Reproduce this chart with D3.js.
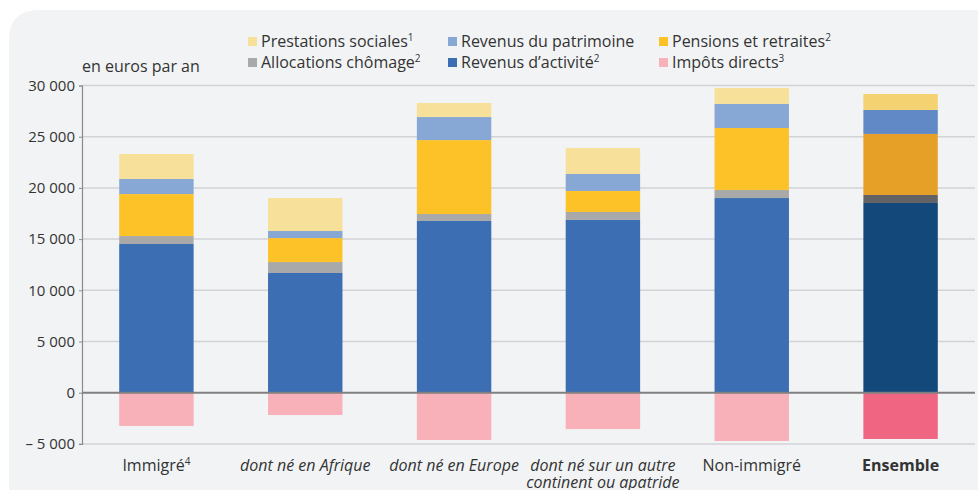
<!DOCTYPE html>
<html>
<head>
<meta charset="utf-8">
<script src="https://cdn.jsdelivr.net/npm/d3@7"></script>
<style>
  body { margin: 0; background: #fff; }
  svg { display: block; font-family: "Open Sans", sans-serif; }
</style>
</head>
<body>
<script>
// data (euros par an)
const categories = ["Immigré", "dont né en Afrique", "dont né en Europe", "dont né sur un autre continent ou apatride", "Non-immigré", "Ensemble"];
const revenusActivite = [14520, 11690, 16770, 16870, 19010, 18530];
const allocationsChomage = [780, 1070, 680, 780, 790, 780];
const pensionsRetraites = [4100, 2340, 7220, 2050, 6050, 5960];
const revenusPatrimoine = [1470, 690, 2250, 1660, 2350, 2340];
const prestationsSociales = [2440, 3220, 1370, 2540, 1560, 1560];
const impotsDirects = [-3250, -2180, -4620, -3550, -4720, -4520];
const yTicks = [-5000, 0, 5000, 10000, 15000, 20000, 25000, 30000];

const keys = ["activite", "chomage", "pensions", "patrimoine", "prestations", "impots"];
const colors = {
  activite: "#3c6eb4", chomage: "#a9a9a9", pensions: "#fec229",
  patrimoine: "#87a8d4", prestations: "#f6e09a", impots: "#f8b1b9"
};
// the "Ensemble" bar uses darker shades
const colorsEnsemble = {
  activite: "#13487b", chomage: "#636366", pensions: "#e6a028",
  patrimoine: "#6189c6", prestations: "#f4d272", impots: "#f06682"
};

const rows = categories.map((c, i) => ({
  cat: c,
  activite: revenusActivite[i],
  chomage: allocationsChomage[i],
  pensions: pensionsRetraites[i],
  patrimoine: revenusPatrimoine[i],
  prestations: prestationsSociales[i],
  impots: impotsDirects[i]
}));

const width = 978, height = 490;
const svg = d3.select("body").append("svg").attr("width", width).attr("height", height);

// panel background
svg.append("path")
  .attr("d", "M9,40 Q9,10 39,10 L978,10 L978,490 L9,490 Z")
  .attr("fill", "#f2f3f5");

const x = d3.scaleBand().domain(categories).range([82, 975]).paddingInner(0.5).paddingOuter(0.25);
const y = d3.scaleLinear().domain([-5000, 30000]).range([443.9, 85.5]);

// gridlines
svg.append("g").selectAll("line")
  .data(yTicks.filter(t => t !== 0))
  .join("line")
  .attr("x1", 82).attr("x2", 975)
  .attr("y1", d => y(d)).attr("y2", d => y(d))
  .attr("stroke", "#d2d3d6").attr("stroke-width", 1.5);

// stacked bars
const stacked = d3.stack().keys(keys).offset(d3.stackOffsetDiverging)(rows);
svg.append("g").selectAll("g")
  .data(stacked)
  .join("g")
  .each(function(series) {
    d3.select(this).selectAll("rect")
      .data(series)
      .join("rect")
      .attr("x", d => x(d.data.cat))
      .attr("width", x.bandwidth())
      .attr("y", d => y(Math.max(d[0], d[1])))
      .attr("height", d => Math.abs(y(d[0]) - y(d[1])))
      .attr("fill", d => (d.data.cat === "Ensemble" ? colorsEnsemble : colors)[series.key]);
  });

// y axis
const fmt = d => d < 0 ? "– " + d3.format(",")(-d).replace(",", " ") : d3.format(",")(d).replace(",", " ");
const yAxis = svg.append("g")
  .attr("transform", "translate(82,0)")
  .call(d3.axisLeft(y).tickValues(yTicks).tickSize(3).tickPadding(4).tickFormat(fmt));
yAxis.select(".domain").attr("stroke", "#8a8a8a").attr("stroke-width", 1.2);
yAxis.selectAll(".tick line").attr("stroke", "#8a8a8a");
yAxis.selectAll(".tick text").attr("font-size", 15).attr("fill", "#333").attr("font-family", "Open Sans");

// zero line
svg.append("line")
  .attr("x1", 82).attr("x2", 975)
  .attr("y1", y(0)).attr("y2", y(0))
  .attr("stroke", "#808080").attr("stroke-width", 2);

svg.append("text")
  .attr("x", 82).attr("y", 72)
  .attr("font-size", 16).attr("fill", "#333")
  .text("en euros par an");

// x labels
const lbl = svg.append("g").attr("font-size", 16).attr("fill", "#333").attr("text-anchor", "middle");
function sup(t, s) {
  t.append("tspan").attr("font-size", 10).attr("dy", -6).text(s);
}
categories.forEach((c, i) => {
  const cx = x(c) + x.bandwidth() / 2;
  const t = lbl.append("text").attr("x", cx).attr("y", 471);
  if (i === 0) {
    t.text("Immigré");
    sup(t, "4");
  } else if (c === "Ensemble") {
    t.attr("font-weight", "bold").text(c);
  } else if (c.startsWith("dont né sur")) {
    t.attr("font-style", "italic");
    t.append("tspan").attr("x", cx).text("dont né sur un autre");
    t.append("tspan").attr("x", cx).attr("dy", 16.5).text("continent ou apatride");
  } else if (c.startsWith("dont")) {
    t.attr("font-style", "italic").text(c);
  } else {
    t.text(c);
  }
});

// legend
const legendItems = [
  { key: "prestations", label: "Prestations sociales", sup: "1", col: 0, row: 0 },
  { key: "patrimoine", label: "Revenus du patrimoine", sup: "", col: 1, row: 0 },
  { key: "pensions", label: "Pensions et retraites", sup: "2", col: 2, row: 0 },
  { key: "chomage", label: "Allocations chômage", sup: "2", col: 0, row: 1 },
  { key: "activite", label: "Revenus d’activité", sup: "2", col: 1, row: 1 },
  { key: "impots", label: "Impôts directs", sup: "3", col: 2, row: 1 }
];
const colX = [248, 448, 659];
const leg = svg.append("g").selectAll("g")
  .data(legendItems)
  .join("g")
  .attr("transform", d => `translate(${colX[d.col]},${41 + d.row * 21})`);
leg.append("rect")
  .attr("x", 0).attr("y", -4).attr("width", 9).attr("height", 9)
  .attr("fill", d => colors[d.key]);
leg.append("text")
  .attr("x", 13).attr("y", 6)
  .attr("font-size", 16).attr("fill", "#333")
  .each(function(d) {
    const t = d3.select(this);
    t.text(d.label);
    if (d.sup) sup(t, d.sup);
  });
</script>
</body>
</html>
